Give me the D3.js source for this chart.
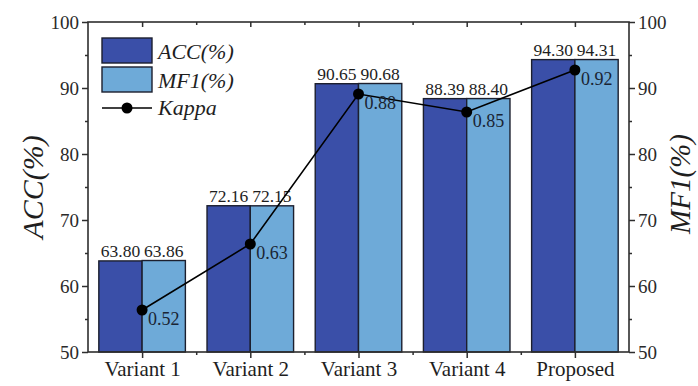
<!DOCTYPE html>
<html>
<head>
<meta charset="utf-8">
<script src="https://cdn.jsdelivr.net/npm/d3@7"></script>
<style>
  html, body { margin: 0; padding: 0; background: #fff; }
  svg { display: block; font-family: "Liberation Serif", "Times New Roman", serif; }
</style>
</head>
<body>
<svg id="chart" width="698" height="386"></svg>
<script>
// Ablation results per model variant
const categories = ["Variant 1", "Variant 2", "Variant 3", "Variant 4", "Proposed"];
const accValues = [63.80, 72.16, 90.65, 88.39, 94.30];
const mf1Values = [63.86, 72.15, 90.68, 88.40, 94.31];
const kappaValues = [0.52, 0.63, 0.88, 0.85, 0.92];
const yTicks = [50, 60, 70, 80, 90, 100];
const yMinorTicks = [55, 65, 75, 85, 95];
const seriesNames = ["ACC(%)", "MF1(%)", "Kappa"];

const colors = { acc: "#3a4fa8", mf1: "#6eaad8", axis: "#2e2e2e", edge: "#1c1f2e" };

const svg = d3.select("#chart");
const margin = { left: 88, right: 69, top: 22, bottom: 34 };
const W = 698, H = 386;
const x0 = margin.left, x1 = W - margin.right;
const y0 = H - margin.bottom, y1 = margin.top;

const x = d3.scaleBand().domain(categories).range([x0, x1]).paddingInner(0.2).paddingOuter(0.1);
const step = x.step();
const xSub = d3.scaleBand().domain(["acc", "mf1"]).range([0, x.bandwidth()]);
const y = d3.scaleLinear().domain([50, 100]).range([y0, y1]);
const yKappa = d3.scaleLinear().domain([0.45, 1.0]).range([y0, y1]);

const numFont = 19;

// Bars
const groups = svg.append("g").selectAll("g").data(categories).join("g")
  .attr("transform", d => `translate(${x(d)},0)`);

[["acc", accValues], ["mf1", mf1Values]].forEach(([key, vals]) => {
  groups.append("rect")
    .attr("x", xSub(key))
    .attr("width", xSub.bandwidth())
    .attr("y", (d, i) => y(vals[i]))
    .attr("height", (d, i) => y(50) - y(vals[i]))
    .attr("fill", colors[key])
    .attr("stroke", colors.edge)
    .attr("stroke-width", 1.4);
  groups.append("text")
    .attr("x", xSub(key) + xSub.bandwidth() / 2)
    .attr("y", (d, i) => y(vals[i]) - 4)
    .attr("text-anchor", "middle")
    .attr("font-size", 17.5)
    .attr("fill", "#1e1e1e")
    .text((d, i) => vals[i].toFixed(2));
});

// Kappa line with markers
const cx = d => x(d) + x.bandwidth() / 2;
const kappaLine = d3.line().x((d, i) => cx(categories[i])).y(d => yKappa(d));
svg.append("path")
  .datum(kappaValues)
  .attr("d", kappaLine)
  .attr("fill", "none")
  .attr("stroke", "#000")
  .attr("stroke-width", 1.6);
svg.append("g").selectAll("circle").data(kappaValues).join("circle")
  .attr("cx", (d, i) => cx(categories[i]))
  .attr("cy", d => yKappa(d))
  .attr("r", 5.5)
  .attr("fill", "#000");
svg.append("g").selectAll("text").data(kappaValues).join("text")
  .attr("x", (d, i) => cx(categories[i]) + 6)
  .attr("y", d => yKappa(d) + 15)
  .attr("font-size", 18)
  .attr("fill", "#1a2433")
  .text(d => d.toFixed(2));

// Frame
svg.append("rect")
  .attr("x", x0).attr("y", y1)
  .attr("width", x1 - x0).attr("height", y0 - y1)
  .attr("fill", "none")
  .attr("stroke", colors.axis)
  .attr("stroke-width", 1.6);

// Left axis
svg.append("g").attr("transform", `translate(${x0},0)`)
  .call(d3.axisLeft(y).tickValues(yTicks).tickSize(6).tickPadding(3).tickFormat(d3.format("d")));
svg.append("g").attr("transform", `translate(${x0},0)`)
  .call(d3.axisLeft(y).tickValues(yMinorTicks).tickSize(3).tickFormat(""));

// Right axis
svg.append("g").attr("transform", `translate(${x1},0)`)
  .call(d3.axisRight(y).tickValues(yTicks).tickSize(6).tickPadding(3).tickFormat(d3.format("d")));
svg.append("g").attr("transform", `translate(${x1},0)`)
  .call(d3.axisRight(y).tickValues(yMinorTicks).tickSize(3).tickFormat(""));

// Bottom axis: major ticks at category centres, minor ticks at group boundaries
const xPoint = d3.scalePoint().domain(categories).range([x0 + step / 2, x1 - step / 2]);
const bottomAxis = svg.append("g").attr("transform", `translate(0,${y0})`)
  .call(d3.axisBottom(xPoint).tickSize(6).tickPadding(3));
const boundaries = d3.range(1, categories.length).map(i => x0 + i * step);
const xLin = d3.scaleLinear().domain([x0, x1]).range([x0, x1]);
svg.append("g").attr("transform", `translate(0,${y0})`)
  .call(d3.axisBottom(xLin).tickValues(boundaries).tickSize(3).tickFormat(""));

// Top axis: inward ticks
svg.append("g").attr("transform", `translate(0,${y1})`)
  .call(d3.axisBottom(xPoint).tickSize(5).tickFormat(""));
svg.append("g").attr("transform", `translate(0,${y1})`)
  .call(d3.axisBottom(xLin).tickValues(boundaries).tickSize(3).tickFormat(""));

// Axis styling
svg.selectAll(".domain").remove();
svg.selectAll(".tick line").attr("stroke", colors.axis).attr("stroke-width", 1.5);
svg.selectAll(".tick text")
  .attr("font-family", "'Liberation Serif', 'Times New Roman', serif")
  .attr("font-size", numFont)
  .attr("fill", "#2a2a2a");
bottomAxis.selectAll(".tick text").attr("font-size", 21).attr("fill", "#1e1e1e");

// Axis titles
svg.append("text")
  .attr("transform", `translate(43,${(y0 + y1) / 2}) rotate(-90)`)
  .attr("text-anchor", "middle")
  .attr("font-size", 30)
  .attr("font-style", "italic")
  .attr("fill", "#1e1e1e")
  .text(seriesNames[0]);
svg.append("text")
  .attr("transform", `translate(690,${(y0 + y1) / 2 - 3}) rotate(-90)`)
  .attr("text-anchor", "middle")
  .attr("font-size", 29)
  .attr("font-style", "italic")
  .attr("fill", "#1e1e1e")
  .text(seriesNames[1]);

// Legend
const legend = svg.append("g").attr("transform", "translate(102,38)");
legend.append("rect").attr("x", 0).attr("y", 0).attr("width", 50).attr("height", 25)
  .attr("fill", colors.acc).attr("stroke", colors.edge).attr("stroke-width", 1.4);
legend.append("rect").attr("x", 0).attr("y", 29).attr("width", 50).attr("height", 25)
  .attr("fill", colors.mf1).attr("stroke", colors.edge).attr("stroke-width", 1.4);
legend.append("line").attr("x1", 0).attr("x2", 50).attr("y1", 70).attr("y2", 70)
  .attr("stroke", "#000").attr("stroke-width", 1.6);
legend.append("circle").attr("cx", 25).attr("cy", 70).attr("r", 5.5).attr("fill", "#000");
const legendY = [21, 50, 77];
legend.selectAll("text.lbl").data(seriesNames).join("text")
  .attr("class", "lbl")
  .attr("x", 56)
  .attr("y", (d, i) => legendY[i])
  .attr("font-size", 22)
  .attr("font-style", "italic")
  .attr("fill", "#1e1e1e")
  .text(d => d);
</script>
</body>
</html>
